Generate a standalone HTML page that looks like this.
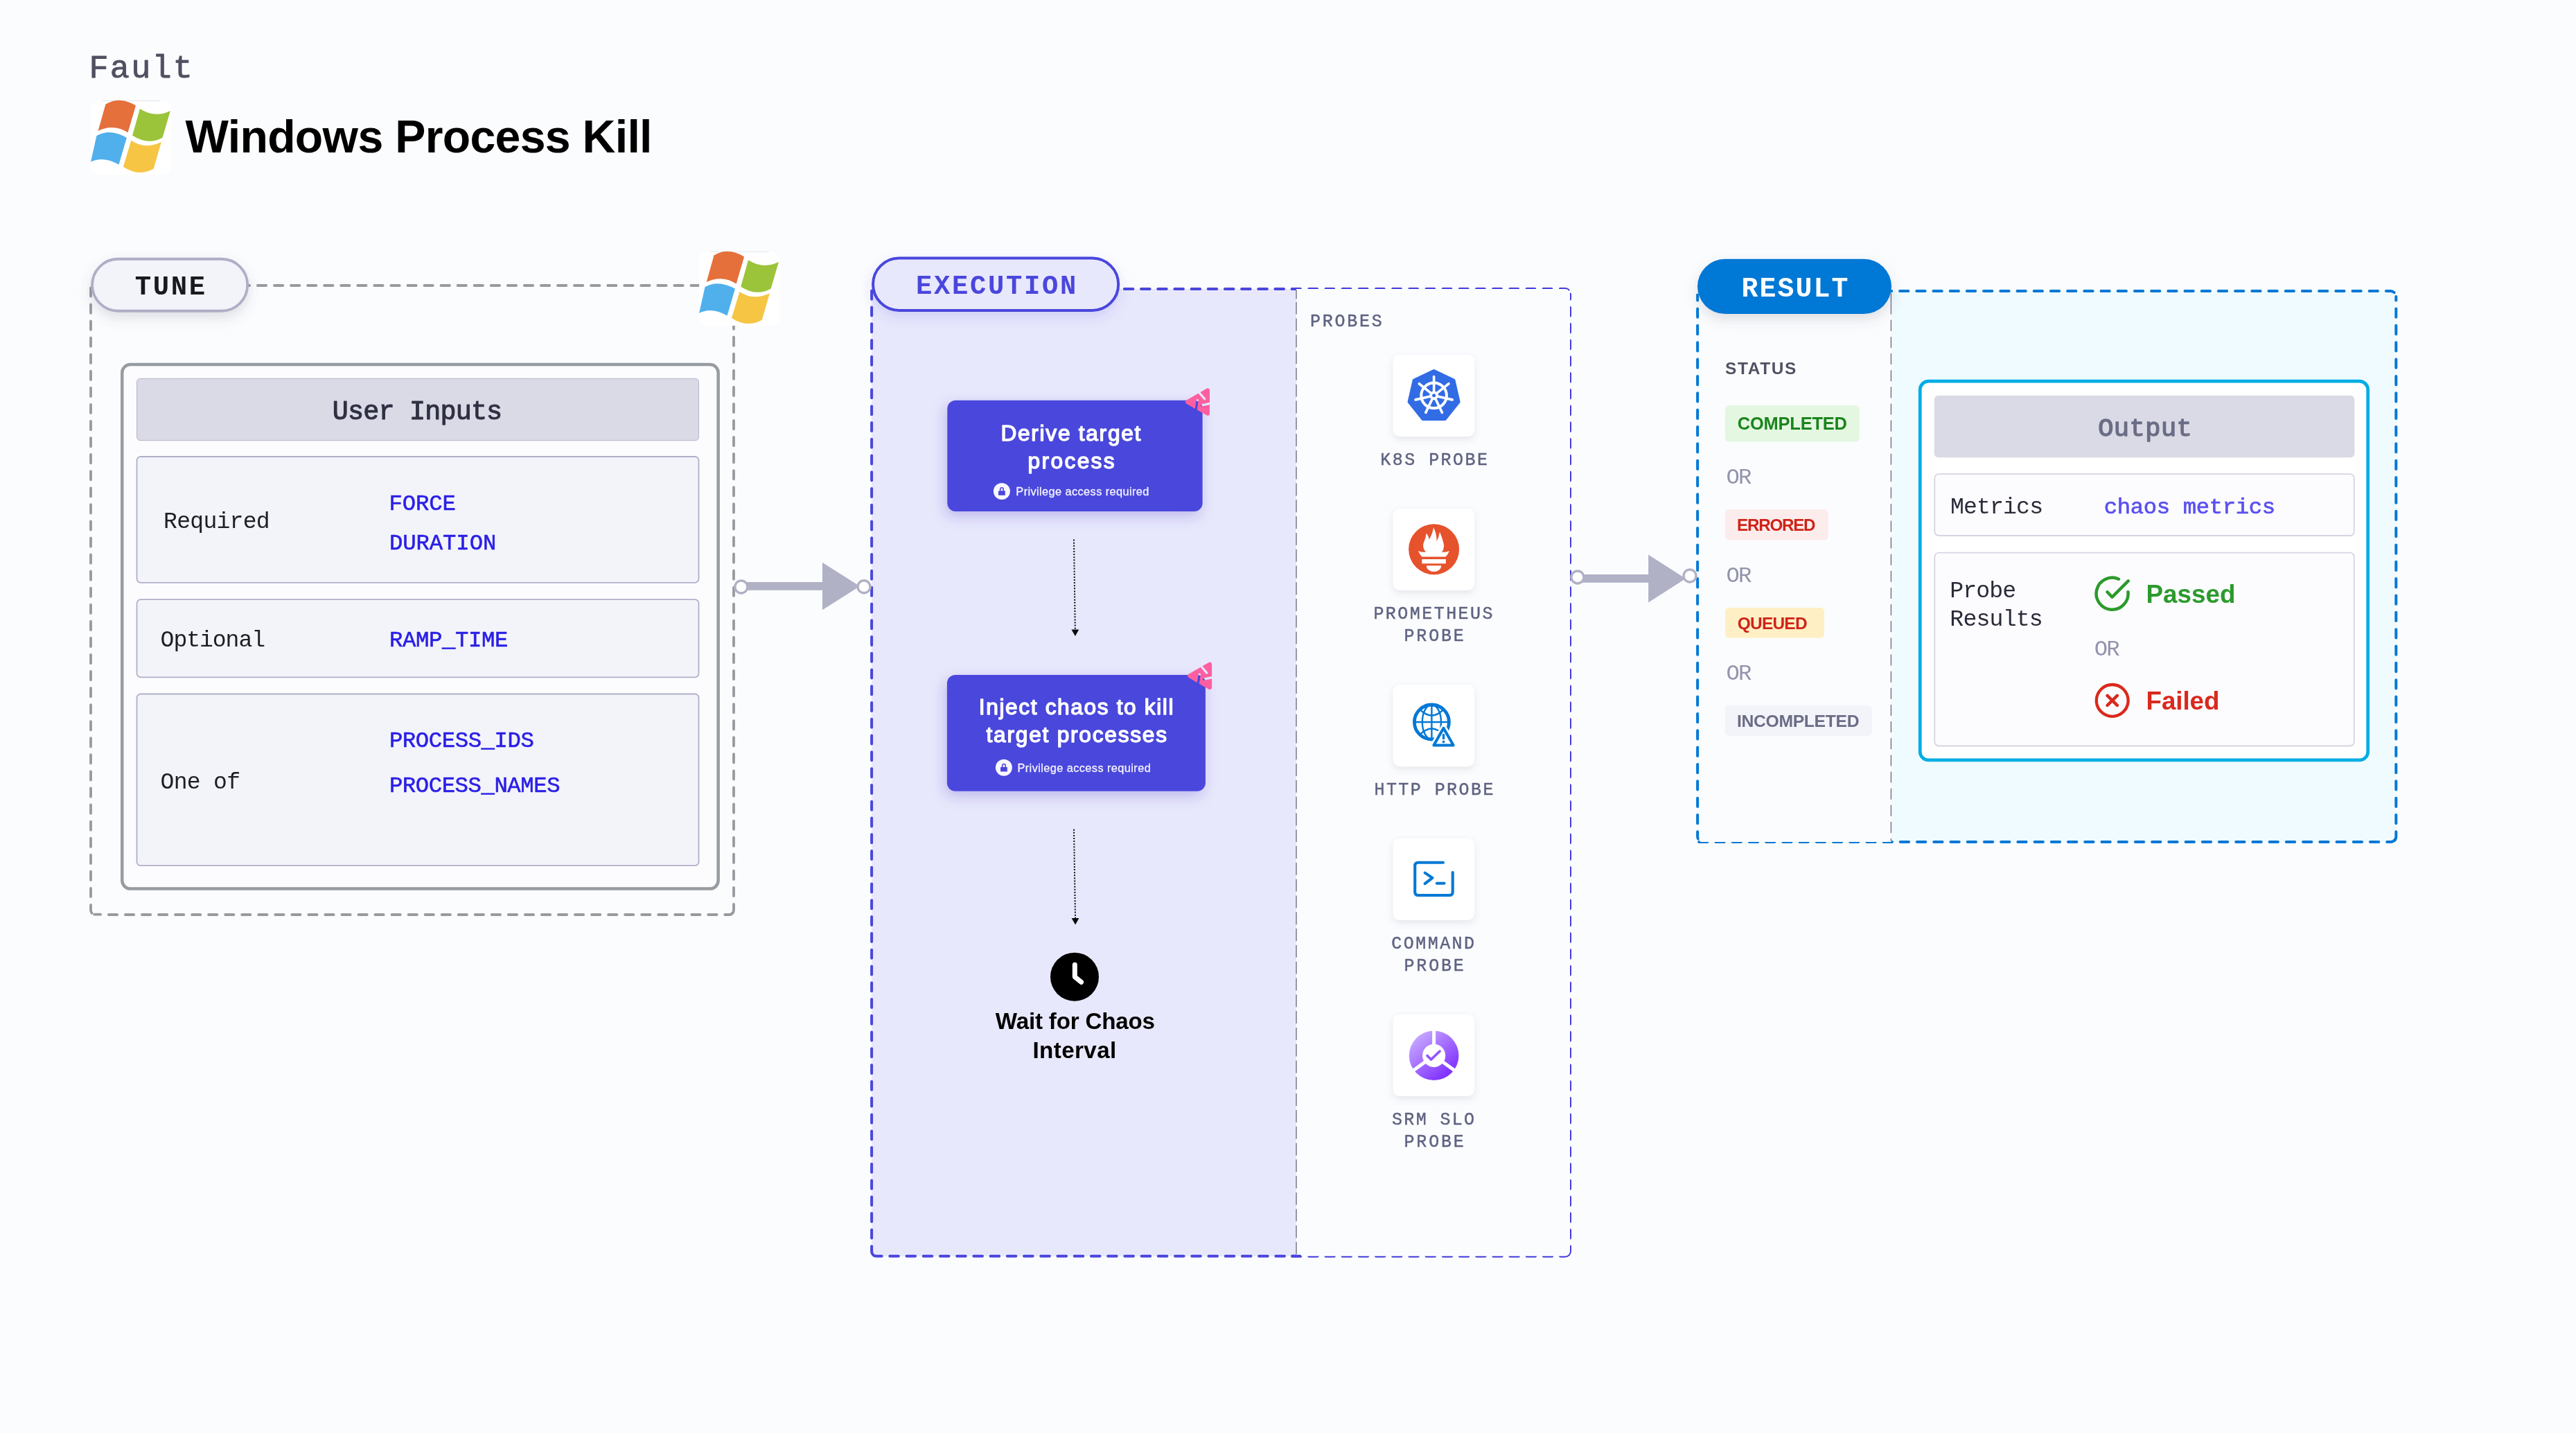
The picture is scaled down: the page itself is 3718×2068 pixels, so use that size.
<!DOCTYPE html>
<html lang="en"><head><meta charset="utf-8"><title>Windows Process Kill</title>
<style>
html,body{margin:0;padding:0;background:#fbfcfe;}
body{width:3718px;height:2068px;overflow:hidden;}
svg{display:block;will-change:transform;}
text{white-space:pre;}
</style></head><body>
<svg width="3718" height="2068" viewBox="0 0 3718 2068">
<defs>
<filter id="shPill" x="-20%" y="-40%" width="140%" height="200%"><feDropShadow dx="0" dy="8" stdDeviation="9" flood-color="#606170" flood-opacity="0.18"/></filter>
<filter id="shPillB" x="-20%" y="-40%" width="140%" height="200%"><feDropShadow dx="0" dy="8" stdDeviation="9" flood-color="#4a46dc" flood-opacity="0.14"/></filter>
<filter id="shCard" x="-30%" y="-30%" width="160%" height="170%"><feDropShadow dx="0" dy="4" stdDeviation="5" flood-color="#606170" flood-opacity="0.14"/></filter>
<filter id="shBox" x="-20%" y="-30%" width="140%" height="170%"><feDropShadow dx="-3" dy="7" stdDeviation="9.5" flood-color="#3a35c0" flood-opacity="0.26"/></filter>
<linearGradient id="gSrm" x1="0.15" y1="0.1" x2="0.85" y2="0.95"><stop offset="0" stop-color="#c6a8ff"/><stop offset="1" stop-color="#7a26ff"/></linearGradient>
<g id="winflag"><g transform="translate(131,145)">
<rect x="0" y="0" width="116.2" height="107" rx="13" fill="#ffffff"/>
<path d="M16.3 0.45 H100.6" stroke="#e2e2e8" stroke-width="0.9" fill="none"/>
<path d="M21.4 5.4 Q41.6 -6.75 65 7.3 L53.6 46.3 Q32.7 33.1 10.6 43.9 Z" fill="#e5703b"/>
<path d="M70.9 12.1 Q92.55 25.9 114.8 14.9 L103.6 53.4 Q83.35 65.4 60.1 50.6 Z" fill="#9bc43a"/>
<path d="M8.4 51.1 Q27.85 39.8 51.9 53.7 L40.5 92.5 Q17.75 79.85 0 88.6 Z" fill="#50b0eb"/>
<path d="M58.3 57.8 Q78.55 71.25 101.8 60.1 L90.7 98.6 Q69.6 110.6 46.9 95.8 Z" fill="#f6c544"/>
</g></g>
<g id="lock">
<circle cx="0" cy="0" r="12" fill="#f8f7fe"/>
<rect x="-4.9" y="-0.8" width="9.8" height="6.6" rx="0.6" fill="#4a46dc"/>
<path d="M-2.2 -0.6 V-3 A2.2 2.2 0 0 1 2.2 -3 V-0.6" fill="none" stroke="#4a46dc" stroke-width="1.6"/>
</g>
<g id="chaos">
<mask id="chm" maskUnits="userSpaceOnUse" x="-5" y="-25" width="45" height="50">
<path d="M3 0.15 L31.9 -16.53 L31.9 16.83 Z" fill="#fff" stroke="#fff" stroke-width="6" stroke-linejoin="round"/>
<path d="M20.1 -12.9 L27.6 -4.1 M36.5 2.2 L23.5 4.9 M15.2 10.5 L17.1 -2.2" stroke="#000" stroke-width="3.2" stroke-linecap="round" fill="none"/>
</mask>
<rect x="-5" y="-25" width="45" height="50" fill="#ff5fa0" mask="url(#chm)"/>
</g>
</defs>

<text x="128.55" y="111.60" font-family='"Liberation Mono", monospace' font-size="46.83" letter-spacing="2.191" fill="#4f5162" stroke="#4f5162" stroke-width="0.9" stroke-linejoin="round" >Fault</text>
<use href="#winflag"/>
<text x="267.53" y="220.00" font-family='"Liberation Sans", sans-serif' font-size="66.18" font-weight="bold" letter-spacing="-0.686" fill="#000000" >Windows Process Kill</text>
<path d="M347.84 412 H1012" fill="none" stroke="#969b9f" stroke-width="3.8" stroke-dasharray="12.3 11.76" stroke-dashoffset="0" stroke-linecap="round"/>
<path d="M1059 462.43 V1313.5 A6.5 6.5 0 0 1 1055.5 1319" fill="none" stroke="#969b9f" stroke-width="3.8" stroke-dasharray="12.3 11.77" stroke-dashoffset="0" stroke-linecap="round"/>
<path d="M156.84 1320 H1052.5 A6.5 6.5 0 0 0 1059 1313.5" fill="none" stroke="#969b9f" stroke-width="3.8" stroke-dasharray="12.3 11.74" stroke-dashoffset="0" stroke-linecap="round"/>
<path d="M136.3 1319.7 H145.1" fill="none" stroke="#969b9f" stroke-width="3.8" stroke-dasharray="30 30" stroke-dashoffset="0" stroke-linecap="round"/>
<path d="M131 415.3 V1313.5 A6.5 6.5 0 0 0 132.6 1317.8" fill="none" stroke="#969b9f" stroke-width="3.8" stroke-dasharray="12.3 11.77" stroke-dashoffset="0" stroke-linecap="round"/>
<g filter="url(#shPill)"><rect x="133.1" y="373.75" width="224.1" height="75" rx="37.5" fill="#f3f4f9" stroke="#aeaec6" stroke-width="3.8"/></g>
<text x="194.83" y="425.00" font-family='"Liberation Mono", monospace' font-size="38.94" font-weight="bold" letter-spacing="2.594" fill="#181b1e" >TUNE</text>
<use href="#winflag" transform="translate(878.1,218.1)"/>
<rect x="176.25" y="526" width="860.4" height="756.6" rx="12" fill="#fcfcfe" stroke="#979ca1" stroke-width="4.5"/>
<rect x="197.5" y="546.3" width="811" height="89.4" rx="5" fill="#d9dae6" stroke="#b5b4cd" stroke-width="1"/>
<text x="479.82" y="605.00" font-family='"Liberation Mono", monospace' font-size="38.34" letter-spacing="-0.771" fill="#2f3042" stroke="#2f3042" stroke-width="1.1" stroke-linejoin="round" >User Inputs</text>
<rect x="197.5" y="659" width="811" height="181.8" rx="5.5" fill="#f3f4fa" stroke="#b0afc9" stroke-width="1.8"/>
<rect x="197.5" y="865.2" width="811" height="112.1" rx="5.5" fill="#f3f4fa" stroke="#b0afc9" stroke-width="1.8"/>
<rect x="197.5" y="1001.5" width="811" height="247.7" rx="5.5" fill="#f3f4fa" stroke="#b0afc9" stroke-width="1.8"/>
<text x="236.10" y="761.75" font-family='"Liberation Mono", monospace' font-size="33.08" letter-spacing="-0.749" fill="#1d1e26" >Required</text>
<text x="231.60" y="933.00" font-family='"Liberation Mono", monospace' font-size="33.08" letter-spacing="-1.044" fill="#1d1e26" >Optional</text>
<text x="231.60" y="1137.50" font-family='"Liberation Mono", monospace' font-size="33.08" letter-spacing="-0.723" fill="#1d1e26" >One of</text>
<text x="561.44" y="736.25" font-family='"Liberation Mono", monospace' font-size="32.26" letter-spacing="-0.067" fill="#2a1fe6" stroke="#2a1fe6" stroke-width="0.6" stroke-linejoin="round" >FORCE</text>
<text x="561.92" y="793.00" font-family='"Liberation Mono", monospace' font-size="32.26" letter-spacing="-0.061" fill="#2a1fe6" stroke="#2a1fe6" stroke-width="0.6" stroke-linejoin="round" >DURATION</text>
<text x="561.92" y="933.00" font-family='"Liberation Mono", monospace' font-size="32.26" letter-spacing="-0.334" fill="#2a1fe6" stroke="#2a1fe6" stroke-width="0.6" stroke-linejoin="round" >RAMP_TIME</text>
<text x="561.92" y="1078.25" font-family='"Liberation Mono", monospace' font-size="32.26" letter-spacing="-0.396" fill="#2a1fe6" stroke="#2a1fe6" stroke-width="0.6" stroke-linejoin="round" >PROCESS_IDS</text>
<text x="561.92" y="1143.00" font-family='"Liberation Mono", monospace' font-size="32.26" letter-spacing="-0.417" fill="#2a1fe6" stroke="#2a1fe6" stroke-width="0.6" stroke-linejoin="round" >PROCESS_NAMES</text>
<path d="M1258.1 417 H1871 V1812.7 H1264.6 A6.5 6.5 0 0 1 1258.1 1806 Z" fill="#e8e8fc"/>
<path d="M1865.1 417 H2258.6 A7.4 7.4 0 0 1 2266 424.4" fill="none" stroke="#4039dd" stroke-width="4" stroke-dasharray="11.8 12.37" stroke-dashoffset="0" stroke-linecap="round"/>
<path d="M2266 424.4 V1805.4 A7.4 7.4 0 0 1 2263 1811.2" fill="none" stroke="#4039dd" stroke-width="4" stroke-dasharray="11.77 12" stroke-dashoffset="4.3" stroke-linecap="round"/>
<path d="M1865.0 1812.85 H2258.6 A7.4 7.4 0 0 0 2266 1805.4" fill="none" stroke="#4039dd" stroke-width="4" stroke-dasharray="12.4 11.79" stroke-dashoffset="0" stroke-linecap="round"/>
<path d="M1871 416.9 H2259 A7 7 0 0 1 2266.05 424 V1805.8 A7 7 0 0 1 2259 1812.8 H1871 Z" fill="#fbfcfe"/>
<path d="M1622.8 417 H1869" fill="none" stroke="#4a46dc" stroke-width="4" stroke-dasharray="12.6 11.58" stroke-linecap="round"/>
<path d="M1258.1 419.73 V1806 A6.5 6.5 0 0 0 1259 1809.3" fill="none" stroke="#4a46dc" stroke-width="4" stroke-dasharray="12 11.773" stroke-dashoffset="0" stroke-linecap="round"/>
<path d="M1258.1 1806 A6.5 6.5 0 0 0 1264.6 1812.7 H1876.4" fill="none" stroke="#4a46dc" stroke-width="4" stroke-dasharray="12.6 11.62" stroke-dashoffset="18.44" stroke-linecap="round"/>
<path d="M1871 435.7 V1810" fill="none" stroke="#8e8e9d" stroke-width="1.8" stroke-dasharray="17.9 5.9" stroke-dashoffset="0" stroke-linecap="butt"/>
<path d="M1871 418.5 V431.5" fill="none" stroke="#8e8e9d" stroke-width="1.8" stroke-dasharray="30 30" stroke-dashoffset="0" stroke-linecap="butt"/>
<g filter="url(#shPillB)"><rect x="1260" y="372.5" width="354.2" height="75.5" rx="37.75" fill="#e8e8fc" stroke="#4a46dc" stroke-width="4"/></g>
<text x="1321.88" y="424.25" font-family='"Liberation Mono", monospace' font-size="38.78" font-weight="bold" letter-spacing="2.745" fill="#4a46dc" >EXECUTION</text>
<g filter="url(#shBox)"><rect x="1367.3" y="577.8" width="368.3" height="160.1" rx="12" fill="#4a46dc"/></g>
<use href="#chaos" transform="translate(1711.1,579.9)"/>
<text x="1444.39" y="636.00" font-family='"Liberation Sans", sans-serif' font-size="31.62" letter-spacing="1.751" fill="#ffffff" stroke="#ffffff" stroke-width="1.4" stroke-linejoin="round" >Derive target</text>
<text x="1483.54" y="676.00" font-family='"Liberation Sans", sans-serif' font-size="31.62" letter-spacing="2.401" fill="#ffffff" stroke="#ffffff" stroke-width="1.4" stroke-linejoin="round" >process</text>
<use href="#lock" transform="translate(1445.9,709)"/>
<text x="1466.35" y="715.00" font-family='"Liberation Sans", sans-serif' font-size="16.33" letter-spacing="0.400" fill="#f4f3ff" stroke="#f4f3ff" stroke-width="0.3" stroke-linejoin="round" >Privilege access required</text>
<path d="M1550.0 778.6 L1551.8 909" stroke="#0b0b0d" stroke-width="2" stroke-dasharray="2 2.1" fill="none"/>
<path d="M1546.3999999999999 908.5 L1557.2 908.5 L1551.8999999999999 918 Z" fill="#0b0b0d"/>
<g filter="url(#shBox)"><rect x="1366.9" y="973.9" width="373" height="167.9" rx="12" fill="#4a46dc"/></g>
<use href="#chaos" transform="translate(1714.2,975.2)"/>
<text x="1412.77" y="1030.70" font-family='"Liberation Sans", sans-serif' font-size="31.62" letter-spacing="1.647" fill="#ffffff" stroke="#ffffff" stroke-width="1.4" stroke-linejoin="round" >Inject chaos to kill</text>
<text x="1423.53" y="1071.00" font-family='"Liberation Sans", sans-serif' font-size="31.62" letter-spacing="1.788" fill="#ffffff" stroke="#ffffff" stroke-width="1.4" stroke-linejoin="round" >target processes</text>
<use href="#lock" transform="translate(1448.9,1107.7)"/>
<text x="1468.45" y="1113.80" font-family='"Liberation Sans", sans-serif' font-size="16.33" letter-spacing="0.413" fill="#f4f3ff" stroke="#f4f3ff" stroke-width="0.3" stroke-linejoin="round" >Privilege access required</text>
<path d="M1550.0 1196.7 L1552.0 1325.5" stroke="#0b0b0d" stroke-width="2" stroke-dasharray="2 2.1" fill="none"/>
<path d="M1546.6 1325.0 L1557.4 1325.0 L1552.1 1334.5 Z" fill="#0b0b0d"/>
<circle cx="1551" cy="1409.7" r="35" fill="#000000"/>
<path d="M1551.3 1392.2 V1409.7 L1560.6 1417.2" fill="none" stroke="#ffffff" stroke-width="7" stroke-linecap="round" stroke-linejoin="round"/>
<text x="1436.82" y="1484.70" font-family='"Liberation Sans", sans-serif' font-size="33.16" font-weight="bold" letter-spacing="-0.194" fill="#000000" >Wait for Chaos</text>
<text x="1490.46" y="1526.90" font-family='"Liberation Sans", sans-serif' font-size="33.16" font-weight="bold" letter-spacing="0.411" fill="#000000" >Interval</text>
<text x="1891.01" y="471.20" font-family='"Liberation Mono", monospace' font-size="24.94" letter-spacing="2.795" fill="#5f6381" stroke="#5f6381" stroke-width="0.45" stroke-linejoin="round" >PROBES</text>
<g filter="url(#shCard)"><rect x="2010.7" y="511.9" width="117.5" height="118.2" rx="10" fill="#ffffff"/></g>
<path d="M2069.60 535.60 L2097.90 549.23 L2104.89 579.86 L2085.31 604.42 L2053.89 604.42 L2034.31 579.86 L2041.30 549.23 Z" fill="#326ce5" stroke="#326ce5" stroke-width="5.4" stroke-linejoin="round"/>
<circle cx="2069.6" cy="570.8" r="18.3" fill="none" stroke="#ffffff" stroke-width="4"/>
<path d="M2069.60 567.80 L2069.60 543.50 M2071.95 568.93 L2090.94 553.78 M2072.52 571.47 L2096.22 576.87 M2070.90 573.50 L2081.45 595.40 M2068.30 573.50 L2057.75 595.40 M2066.68 571.47 L2042.98 576.87 M2067.25 568.93 L2048.26 553.78" stroke="#ffffff" stroke-width="3.6" stroke-linecap="round" fill="none"/>
<circle cx="2069.6" cy="570.8" r="6.4" fill="#ffffff"/><circle cx="2069.6" cy="570.8" r="2.5" fill="#326ce5"/>
<text x="1992.31" y="670.70" font-family='"Liberation Mono", monospace' font-size="24.94" letter-spacing="2.494" fill="#5f6381" stroke="#5f6381" stroke-width="0.45" stroke-linejoin="round" >K8S PROBE</text>
<g filter="url(#shCard)"><rect x="2010.7" y="733.9" width="117.5" height="118.2" rx="10" fill="#ffffff"/></g>
<g transform="translate(2069.6,792.8)"><circle r="36.5" fill="#e6522c"/><path d="M-22.7 2.2 Q-17 4.6 -11.9 3.9 Q-17.5 -3 -14.6 -10 Q-11.5 -17 -10.9 -23.2 Q-7.6 -19.5 -7 -14.2 Q-1.5 -23 -0.7 -31.8 Q4.8 -21 3.7 -11.2 Q7.5 -18 8.4 -25.4 Q12 -17 14 -8.5 Q15.6 -1.5 11.5 3.9 Q17 4.6 22.3 2.2 Q20.5 7 16.9 10.7 H-17.3 Q-20.8 7 -22.7 2.2 Z" fill="#ffffff"/><rect x="-17.3" y="14.2" width="34.5" height="6.3" fill="#ffffff"/><path d="M-10.9 23.4 H10.7 A10.8 8.8 0 0 1 -10.9 23.4 Z" fill="#ffffff"/></g>
<text x="1982.41" y="893.00" font-family='"Liberation Mono", monospace' font-size="24.94" letter-spacing="2.492" fill="#5f6381" stroke="#5f6381" stroke-width="0.45" stroke-linejoin="round" >PROMETHEUS</text>
<text x="2026.51" y="925.00" font-family='"Liberation Mono", monospace' font-size="24.94" letter-spacing="2.849" fill="#5f6381" stroke="#5f6381" stroke-width="0.45" stroke-linejoin="round" >PROBE</text>
<g filter="url(#shCard)"><rect x="2010.7" y="988" width="117.5" height="118.2" rx="10" fill="#ffffff"/></g>
<g transform="translate(2066.4,1042)" fill="none" stroke="#0278d5"><circle r="25" stroke-width="4.8"/><ellipse rx="13.6" ry="25" stroke-width="2.4"/><path d="M0 -25 V25 M-25 0 H25" stroke-width="2.4"/><path d="M-16.5 -17.6 Q0 -1.4 16.5 -17.6 M-16.5 17.6 Q0 1.4 16.5 17.6" stroke-width="2.4"/></g>
<path d="M2083.5 1050.8 L2097.7 1075.6 H2069.4 Z" fill="#ffffff" stroke="#ffffff" stroke-width="9.5" stroke-linejoin="round"/>
<path d="M2083.5 1050.8 L2097.7 1075.6 H2069.4 Z" fill="#ffffff" stroke="#0278d5" stroke-width="4" stroke-linejoin="round"/>
<path d="M2083.5 1059.2 V1067" stroke="#0278d5" stroke-width="3.4" fill="none"/><circle cx="2083.5" cy="1070.4" r="1.9" fill="#0278d5"/>
<text x="1983.51" y="1147.30" font-family='"Liberation Mono", monospace' font-size="24.94" letter-spacing="2.466" fill="#5f6381" stroke="#5f6381" stroke-width="0.45" stroke-linejoin="round" >HTTP PROBE</text>
<g filter="url(#shCard)"><rect x="2010.7" y="1209.9" width="117.5" height="118.2" rx="10" fill="#ffffff"/></g>
<path d="M2083 1244.7 H2047 Q2042.2 1244.7 2042.2 1249.5 V1287.2 Q2042.2 1292 2047 1292 H2091.9 Q2096.7 1292 2096.7 1287.2 V1259.1" fill="none" stroke="#0278d5" stroke-width="4.1" stroke-linecap="round"/>
<path d="M2056.7 1259.6 L2067.4 1266.9 L2056.7 1275.2 M2073.8 1274.7 H2084.5" fill="none" stroke="#0278d5" stroke-width="4.1" stroke-linecap="round" stroke-linejoin="round"/>
<text x="2008.23" y="1369.00" font-family='"Liberation Mono", monospace' font-size="24.94" letter-spacing="2.515" fill="#5f6381" stroke="#5f6381" stroke-width="0.45" stroke-linejoin="round" >COMMAND</text>
<text x="2026.51" y="1401.00" font-family='"Liberation Mono", monospace' font-size="24.94" letter-spacing="2.849" fill="#5f6381" stroke="#5f6381" stroke-width="0.45" stroke-linejoin="round" >PROBE</text>
<g filter="url(#shCard)"><rect x="2010.7" y="1463.9" width="117.5" height="118.2" rx="10" fill="#ffffff"/></g>
<g transform="translate(2069.6,1523.3)"><circle r="35.8" fill="url(#gSrm)"/><path d="M0 0 V-38 M0 0 L-30.7 22.3 M0 0 L30.7 22.3" stroke="#ffffff" stroke-width="5" fill="none"/><circle r="16.6" fill="#ffffff"/><path d="M-9.6 0.2 L-4.2 5.8 L8.4 -6.2" stroke="#9355ff" stroke-width="3.6" stroke-linecap="round" stroke-linejoin="round" fill="none"/></g>
<text x="2009.00" y="1623.40" font-family='"Liberation Mono", monospace' font-size="24.94" letter-spacing="2.386" fill="#5f6381" stroke="#5f6381" stroke-width="0.45" stroke-linejoin="round" >SRM SLO</text>
<text x="2026.51" y="1655.40" font-family='"Liberation Mono", monospace' font-size="24.94" letter-spacing="2.849" fill="#5f6381" stroke="#5f6381" stroke-width="0.45" stroke-linejoin="round" >PROBE</text>
<path d="M2450.1 420.06 H3450.3 A8 8 0 0 1 3458.3 428.06 V1207.0 A8 8 0 0 1 3450.3 1215.0 H2458.1 A8 8 0 0 1 2450.1 1207 Z" fill="#effbff"/>
<path d="M2717.86 420.06 H3450.3 A8 8 0 0 1 3458.3 428.06" fill="none" stroke="#0278d5" stroke-width="4" stroke-dasharray="12.3 11.9" stroke-dashoffset="0" stroke-linecap="round"/>
<path d="M3458.3 428.06 V1207.0 A8 8 0 0 1 3456.5 1212.4" fill="none" stroke="#0278d5" stroke-width="4" stroke-dasharray="12.3 12.05" stroke-dashoffset="6.9" stroke-linecap="round"/>
<path d="M2450.1 425.4 V1207 A8 8 0 0 0 2450.9 1210.5" fill="none" stroke="#0278d5" stroke-width="4" stroke-dasharray="12.3 12.05" stroke-dashoffset="4.25" stroke-linecap="round"/>
<path d="M2452.16 1215.0 H3450.3 A8 8 0 0 0 3458.3 1207.0" fill="none" stroke="#0278d5" stroke-width="4" stroke-dasharray="12.3 11.92" stroke-dashoffset="0" stroke-linecap="round"/>
<path d="M2452.7 424 H2729.5 V1215.05 H2456 A3.3 3.3 0 0 1 2452.7 1211.7 Z" fill="#fbfcfe"/>
<path d="M2729.4 437.6 V1213" fill="none" stroke="#5e6079" stroke-width="1.2" stroke-dasharray="16 8.14" stroke-dashoffset="0" stroke-linecap="butt"/>
<path d="M2729.4 422.7 V437.6" fill="none" stroke="#5e6079" stroke-width="1.2" stroke-dasharray="30 30" stroke-dashoffset="0" stroke-linecap="butt"/>
<g filter="url(#shPill)"><rect x="2450" y="373.8" width="280" height="79.2" rx="39.6" fill="#0278d5"/></g>
<text x="2513.56" y="427.50" font-family='"Liberation Mono", monospace' font-size="39.85" font-weight="bold" letter-spacing="2.087" fill="#ffffff" >RESULT</text>
<text x="2490.02" y="540.00" font-family='"Liberation Sans", sans-serif' font-size="24.36" font-weight="bold" letter-spacing="1.669" fill="#4f5162" >STATUS</text>
<rect x="2490" y="585" width="193.75" height="52.50" rx="5.5" fill="#e4f7e1"/>
<text x="2507.73" y="620.00" font-family='"Liberation Sans", sans-serif' font-size="25.45" font-weight="bold" letter-spacing="-0.180" fill="#1b841d" >COMPLETED</text>
<rect x="2490" y="735" width="148.75" height="44.50" rx="5.5" fill="#fcedec"/>
<text x="2507.12" y="765.75" font-family='"Liberation Sans", sans-serif' font-size="24.15" font-weight="bold" letter-spacing="-1.220" fill="#cf2318" >ERRORED</text>
<rect x="2490" y="877" width="143.00" height="43.50" rx="5.5" fill="#fef0c4"/>
<text x="2507.77" y="907.50" font-family='"Liberation Sans", sans-serif' font-size="24.44" font-weight="bold" letter-spacing="-0.752" fill="#cf2318" >QUEUED</text>
<rect x="2490" y="1018" width="212.00" height="44.00" rx="5.5" fill="#f3f3fa"/>
<text x="2507.08" y="1048.75" font-family='"Liberation Sans", sans-serif' font-size="24.73" font-weight="bold" letter-spacing="-0.348" fill="#6b6d85" >INCOMPLETED</text>
<text x="2491.39" y="698.00" font-family='"Liberation Mono", monospace' font-size="32.24" letter-spacing="-1.774" fill="#9293ab" >OR</text>
<text x="2491.39" y="840.00" font-family='"Liberation Mono", monospace' font-size="32.24" letter-spacing="-1.774" fill="#9293ab" >OR</text>
<text x="2491.39" y="980.50" font-family='"Liberation Mono", monospace' font-size="32.24" letter-spacing="-1.774" fill="#9293ab" >OR</text>
<rect x="2771.25" y="550.15" width="646.4" height="546.8" rx="12.3" fill="#ffffff" stroke="#00ade4" stroke-width="4.7"/>
<rect x="2791.7" y="570.8" width="606.7" height="89.4" rx="6" fill="#d9dae6"/>
<text x="3028.15" y="629.20" font-family='"Liberation Mono", monospace' font-size="37.02" letter-spacing="0.475" fill="#6b6d85" stroke="#6b6d85" stroke-width="1.4" stroke-linejoin="round" >Output</text>
<rect x="2792.3" y="684.2" width="605.5" height="88.8" rx="6" fill="#fcfcff" stroke="#d5d5e2" stroke-width="1.8"/>
<rect x="2792.3" y="797.7" width="605.5" height="278.8" rx="6" fill="#fcfcff" stroke="#d5d5e2" stroke-width="1.8"/>
<text x="2814.93" y="740.60" font-family='"Liberation Mono", monospace' font-size="33.16" letter-spacing="-0.858" fill="#2a2b38" >Metrics</text>
<text x="3036.79" y="740.60" font-family='"Liberation Mono", monospace' font-size="32.20" letter-spacing="-0.321" fill="#5a50f0" stroke="#5a50f0" stroke-width="0.7" stroke-linejoin="round" >chaos metrics</text>
<text x="2814.35" y="861.80" font-family='"Liberation Mono", monospace' font-size="33.16" letter-spacing="-0.915" fill="#2a2b38" >Probe</text>
<text x="2814.35" y="902.90" font-family='"Liberation Mono", monospace' font-size="33.16" letter-spacing="-0.811" fill="#2a2b38" >Results</text>
<path d="M3057.95 835.69 A23 23 0 1 0 3071.47 854.30" fill="none" stroke="#2c9a2c" stroke-width="4.5" stroke-linecap="round"/>
<path d="M3041.5 854.3 L3048.5 861.6 L3071.7 838.4" fill="none" stroke="#2c9a2c" stroke-width="4.5" stroke-linecap="round" stroke-linejoin="round"/>
<text x="3097.52" y="869.90" font-family='"Liberation Sans", sans-serif' font-size="36.80" font-weight="bold" letter-spacing="-0.003" fill="#2c9a2c" >Passed</text>
<text x="3022.79" y="945.50" font-family='"Liberation Mono", monospace' font-size="32.24" letter-spacing="-1.774" fill="#9293ab" >OR</text>
<circle cx="3048.7" cy="1010.9" r="22.9" fill="none" stroke="#da291d" stroke-width="4.3"/>
<path d="M3041.6 1003.9 L3055.8 1017.9 M3055.8 1003.9 L3041.6 1017.9" fill="none" stroke="#da291d" stroke-width="4.5" stroke-linecap="round"/>
<text x="3097.52" y="1024.00" font-family='"Liberation Sans", sans-serif' font-size="36.80" font-weight="bold" letter-spacing="-0.095" fill="#da291d" >Failed</text>
<rect x="1069.8" y="840.0" width="118.20000000000005" height="11.8" fill="#b0b1c5"/>
<path d="M1187 811.8 L1241 846.05 L1187 880.3 Z" fill="#b0b1c5"/>
<circle cx="1069.8" cy="847" r="9" fill="#ffffff" stroke="#b0b1c5" stroke-width="3.4"/>
<circle cx="1247" cy="846.8" r="9" fill="#ffffff" stroke="#b0b1c5" stroke-width="3.4"/>
<rect x="2276.9" y="829.0" width="103.19999999999982" height="11.8" fill="#b0b1c5"/>
<path d="M2379.1 800.5 L2433 835.0 L2379.1 869.5 Z" fill="#b0b1c5"/>
<circle cx="2276.9" cy="832.95" r="9" fill="#ffffff" stroke="#b0b1c5" stroke-width="3.4"/>
<circle cx="2439" cy="831" r="9" fill="#ffffff" stroke="#b0b1c5" stroke-width="3.4"/>
</svg></body></html>
